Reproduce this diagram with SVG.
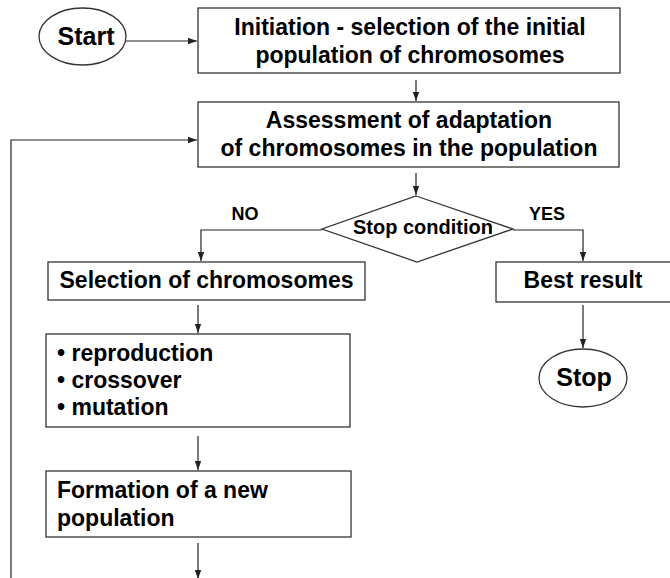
<svg xmlns="http://www.w3.org/2000/svg" width="670" height="578" viewBox="0 0 670 578">
<style>
.box{fill:#fff;stroke:#333;stroke-width:1.3}
.t{font-family:"Liberation Sans",Arial,sans-serif;font-weight:bold;fill:#000}
.c{text-anchor:middle}
.m{font-size:23px}
.ln{fill:none;stroke:#222;stroke-width:1.2}
</style>
<defs>
<marker id="ah" markerUnits="userSpaceOnUse" markerWidth="10" markerHeight="8" refX="9" refY="4" orient="auto">
<path d="M0,0.8 L9,4 L0,7.2 Z" fill="#222"/>
</marker>
</defs>
<rect width="670" height="578" fill="#fff"/>
<g id="connectors">
<path class="ln" d="M126,41 H197" marker-end="url(#ah)"/>
<path class="ln" d="M416,80 V101" marker-end="url(#ah)"/>
<path class="ln" d="M11,578 V140 H197" marker-end="url(#ah)"/>
<path class="ln" d="M416,173 V195" marker-end="url(#ah)"/>
<path class="ln" d="M322,230 H201 V261" marker-end="url(#ah)"/>
<path class="ln" d="M513,230 H583 V261" marker-end="url(#ah)"/>
<path class="ln" d="M198,305 V333" marker-end="url(#ah)"/>
<path class="ln" d="M583,305 V348" marker-end="url(#ah)"/>
<path class="ln" d="M198,436 V470" marker-end="url(#ah)"/>
<path class="ln" d="M198,543 V579" marker-end="url(#ah)"/>
</g>
<g id="start">
<ellipse class="box" cx="82.5" cy="36.5" rx="43.5" ry="28.5"/>
<text class="t c" x="86" y="45" font-size="25">Start</text>
</g>
<g id="init">
<rect class="box" x="198" y="8" width="422" height="65"/>
<text class="t c m" x="410" y="35">Initiation - selection of the initial</text>
<text class="t c m" x="410" y="63">population of chromosomes</text>
</g>
<g id="assess">
<rect class="box" x="198" y="102" width="421" height="65"/>
<text class="t c m" x="409" y="128">Assessment of adaptation</text>
<text class="t c m" x="409" y="156">of chromosomes in the population</text>
</g>
<g id="cond">
<polygon class="box" points="416,196 513,229 417,262 322,229"/>
<text class="t c" x="423" y="234" font-size="20">Stop condition</text>
</g>
<text class="t c" x="245" y="220" font-size="18">NO</text>
<text class="t c" x="547" y="220" font-size="18">YES</text>
<g id="selection">
<rect class="box" x="48" y="262" width="317" height="38"/>
<text class="t c m" x="206.5" y="288">Selection of chromosomes</text>
</g>
<g id="ops">
<rect class="box" x="46" y="334" width="304" height="93"/>
<text class="t m" x="57" y="361">• reproduction</text>
<text class="t m" x="57" y="388">• crossover</text>
<text class="t m" x="57" y="415">• mutation</text>
</g>
<g id="formation">
<rect class="box" x="46" y="471" width="305" height="66"/>
<text class="t m" x="57" y="498">Formation of a new</text>
<text class="t m" x="57" y="526">population</text>
</g>
<g id="best">
<rect class="box" x="496" y="262" width="180" height="40"/>
<text class="t c m" x="583" y="288">Best result</text>
</g>
<g id="stop">
<ellipse class="box" cx="583" cy="378" rx="44" ry="29"/>
<text class="t c" x="584" y="386" font-size="25">Stop</text>
</g>
</svg>
